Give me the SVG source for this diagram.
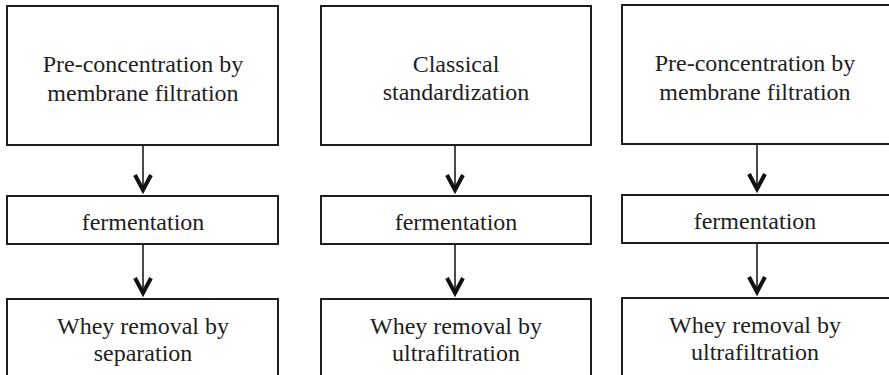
<svg xmlns="http://www.w3.org/2000/svg" width="889" height="375" viewBox="0 0 889 375">
<style>
.box{fill:#fff;stroke:#1e1e1e;stroke-width:2}
.t{font-family:"Liberation Serif","Times New Roman",serif;font-size:24px;fill:#1e1e1e;text-anchor:middle}
.ln{fill:none;stroke:#1e1e1e;stroke-width:1.6}
.hd{fill:none;stroke:#111;stroke-width:4;stroke-linejoin:miter;stroke-linecap:butt}
</style>
<rect width="889" height="375" fill="#fff"/>
<g id="c1n1"><rect class="box" x="7" y="6" width="271" height="139"/><text class="t" x="143" y="72">Pre-concentration by</text><text class="t" x="143" y="101">membrane filtration</text></g>
<g id="c1n2"><rect class="box" x="7" y="196" width="271" height="48"/><text class="t" x="143" y="230">fermentation</text></g>
<g id="c1n3"><rect class="box" x="7" y="299" width="271" height="90"/><text class="t" x="143" y="334">Whey removal by</text><text class="t" x="143" y="361">separation</text></g>
<g id="c2n1"><rect class="box" x="321" y="6" width="270" height="139"/><text class="t" x="456" y="72">Classical</text><text class="t" x="456" y="100">standardization</text></g>
<g id="c2n2"><rect class="box" x="321" y="196" width="270" height="48"/><text class="t" x="456" y="230">fermentation</text></g>
<g id="c2n3"><rect class="box" x="321" y="299" width="270" height="90"/><text class="t" x="456" y="334">Whey removal by</text><text class="t" x="456" y="361">ultrafiltration</text></g>
<g id="c3n1"><rect class="box" x="622" y="5" width="270" height="139"/><text class="t" x="755" y="71">Pre-concentration by</text><text class="t" x="755" y="100">membrane filtration</text></g>
<g id="c3n2"><rect class="box" x="622" y="195" width="270" height="48"/><text class="t" x="755" y="229">fermentation</text></g>
<g id="c3n3"><rect class="box" x="622" y="298" width="270" height="90"/><text class="t" x="755" y="333">Whey removal by</text><text class="t" x="755" y="360">ultrafiltration</text></g>
<g id="connectors">
<path class="ln" d="M143 146V192M143 245V294"/>
<path class="hd" d="M135 175L143 190L151 175M135 278L143 293L151 278"/>
<path class="ln" d="M455 146V192M455 245V294"/>
<path class="hd" d="M447 175L455 190L463 175M447 278L455 293L463 278"/>
<path class="ln" d="M757 145V191M757 244V293"/>
<path class="hd" d="M749 174L757 189L765 174M749 277L757 292L765 277"/>
</g>
</svg>
